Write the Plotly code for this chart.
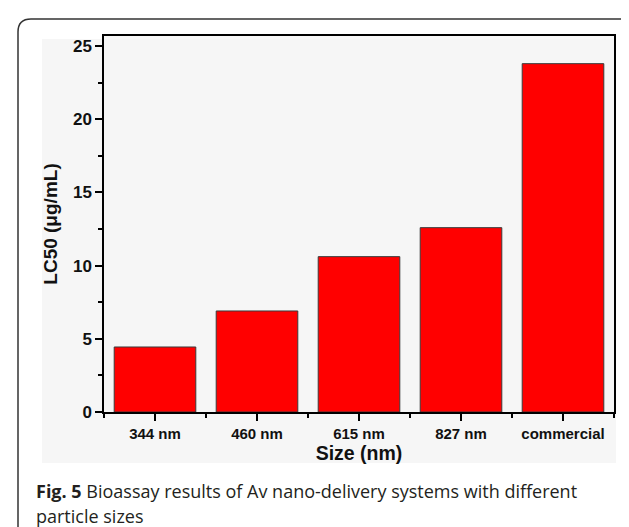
import plotly.graph_objects as go

categories = ["344 nm", "460 nm", "615 nm", "827 nm", "commercial"]
lc50_values = [4.44, 6.90, 10.61, 12.59, 23.79]
y_tick_values = [0, 5, 10, 15, 20, 25]

W, H = 629, 527
L, R, T, B = 96, 23, 28, 123
pw, ph = W - L - R, H - T - B

def px(x):
    return (x - L) / pw

def py(y):
    return (H - B - y) / ph

positions = list(range(len(categories)))

fig = go.Figure()
fig.add_trace(go.Bar(
    x=positions, y=lc50_values,
    marker=dict(color="#ff0000", line=dict(color="#3a3a3a", width=1)),
    width=0.8,
    hoverinfo="skip",
))

axis_font = dict(family="Liberation Sans, Arial, sans-serif", color="#111111")

# rounded border
x0, y0, x1, y1, r = 10, 11, 628, 532, 13
path = (
    f"M {px(x0)},{py(y0 + r)} "
    f"Q {px(x0)},{py(y0)} {px(x0 + r)},{py(y0)} "
    f"L {px(x1 - r)},{py(y0)} "
    f"Q {px(x1)},{py(y0)} {px(x1)},{py(y0 + r)} "
    f"L {px(x1)},{py(y1 - r)} "
    f"Q {px(x1)},{py(y1)} {px(x1 - r)},{py(y1)} "
    f"L {px(x0 + r)},{py(y1)} "
    f"Q {px(x0)},{py(y1)} {px(x0)},{py(y1 - r)} Z"
)

fig.update_layout(
    width=W, height=H,
    margin=dict(l=L, r=R, t=T, b=B, autoexpand=False),
    paper_bgcolor="white",
    plot_bgcolor="#f8f8f8",
    showlegend=False,
    bargap=0.2,
    font=axis_font,
    xaxis=dict(
        range=[-0.5, len(categories) - 0.5],
        tickmode="array", tickvals=positions, ticktext=categories,
        ticks="outside", ticklen=7, tickwidth=1.5, tickcolor="black",
        minor=dict(tickmode="linear", tick0=0.5, dtick=1, ticks="outside",
                   ticklen=4, tickwidth=1.5, tickcolor="black", showgrid=False),
        tickfont=dict(size=15, family="Liberation Sans, Arial, sans-serif", weight="bold"),
        showline=True, linecolor="black", linewidth=1.5, mirror=True,
        showgrid=False, zeroline=False,
        title=dict(text="Size (nm)", standoff=4,
                   font=dict(size=19.5, family="Liberation Sans, Arial, sans-serif", weight="bold")),
    ),
    yaxis=dict(
        range=[0, 25.68],
        tickmode="array", tickvals=y_tick_values,
        ticks="outside", ticklen=7, tickwidth=1.5, tickcolor="black",
        minor=dict(tickmode="linear", tick0=0, dtick=2.5, ticks="outside",
                   ticklen=4, tickwidth=1.5, tickcolor="black", showgrid=False),
        tickfont=dict(size=17, family="Liberation Sans, Arial, sans-serif", weight="bold"),
        showline=True, linecolor="black", linewidth=1.5, mirror=True,
        showgrid=False, zeroline=False,
        title=dict(text="LC50 (μg/mL)", standoff=10,
                   font=dict(size=19, family="Liberation Sans, Arial, sans-serif", weight="bold")),
    ),
    shapes=[
        dict(type="rect", xref="paper", yref="paper", layer="below",
             x0=px(34), x1=px(608), y0=py(455), y1=py(31),
             fillcolor="#f6f6f6", line=dict(width=0)),
        dict(type="path", xref="paper", yref="paper", path=path,
             line=dict(color="#333333", width=1.5)),
    ],
    annotations=[
        dict(xref="paper", yref="paper", x=px(26), y=py(483), xanchor="left", yanchor="middle",
             text="<b>Fig. 5</b> Bioassay results of Av nano-delivery systems with different",
             showarrow=False, font=dict(family="Open Sans, sans-serif", size=18, color="#231f20")),
        dict(xref="paper", yref="paper", x=px(26), y=py(508), xanchor="left", yanchor="middle",
             text="particle sizes",
             showarrow=False, font=dict(family="Open Sans, sans-serif", size=18, color="#231f20")),
    ],
)

fig.write_html("out.html")
